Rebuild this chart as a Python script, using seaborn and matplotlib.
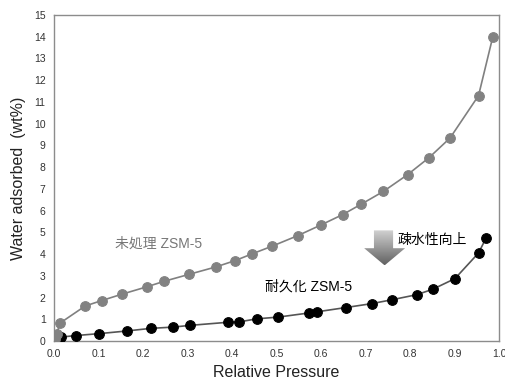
import numpy as np
import pandas as pd
import matplotlib
matplotlib.use("Agg")
import matplotlib.pyplot as plt
from matplotlib.patches import Polygon
import seaborn as sns

# untreated ZSM-5 (gray)
p_untreated = [0.002, 0.006, 0.014, 0.07, 0.107, 0.152, 0.208, 0.248, 0.304, 0.364,
               0.407, 0.444, 0.491, 0.548, 0.60, 0.649, 0.69, 0.74, 0.795, 0.843,
               0.89, 0.954, 0.986]
w_untreated = [0.11, 0.34, 0.83, 1.61, 1.86, 2.15, 2.49, 2.75, 3.07, 3.41,
               3.70, 4.0, 4.37, 4.85, 5.34, 5.82, 6.29, 6.88, 7.66, 8.44,
               9.34, 11.29, 13.99]

# durable ZSM-5 (black)
p_durable = [0.004, 0.015, 0.049, 0.102, 0.163, 0.217, 0.268, 0.306, 0.39, 0.416,
             0.456, 0.504, 0.573, 0.59, 0.656, 0.714, 0.76, 0.815, 0.851, 0.901,
             0.954, 0.971]
w_durable = [0.08, 0.18, 0.25, 0.34, 0.46, 0.58, 0.64, 0.72, 0.86, 0.88,
             1.02, 1.10, 1.29, 1.34, 1.54, 1.72, 1.90, 2.13, 2.38, 2.87,
             4.05, 4.74]

label_untreated = "未処理 ZSM-5"
label_durable = "耐久化 ZSM-5"
label_arrow = "疎水性向上"

df_u = pd.DataFrame({"p": p_untreated, "w": w_untreated})
df_d = pd.DataFrame({"p": p_durable, "w": w_durable})

sns.set_style("white")
plt.rcParams["font.family"] = ["Liberation Sans", "Noto Sans CJK JP", "DejaVu Sans"]

fig = plt.figure(figsize=(5.05, 3.82), dpi=100)
ax = fig.add_axes([54 / 505, 1 - 341 / 382, 445 / 505, 326 / 382])

sns.lineplot(data=df_d, x="p", y="w", ax=ax, color="#555555", lw=1.2,
             marker="o", markersize=7, markerfacecolor="black",
             markeredgecolor="black", zorder=3)
sns.lineplot(data=df_u, x="p", y="w", ax=ax, color="#808080", lw=1.2,
             marker="o", markersize=7, markerfacecolor="#828282",
             markeredgecolor="#828282", zorder=4)

ax.set_xlim(0, 1.0)
ax.set_ylim(0, 15)
ax.set_xticks(np.arange(0, 1.01, 0.1))
ax.set_xticklabels([f"{v:.1f}" for v in np.arange(0, 1.01, 0.1)])
ax.set_yticks(range(0, 16))
ax.tick_params(axis="both", length=0, labelsize=7.5, colors="#333333", pad=6)
for s in ax.spines.values():
    s.set_color("#8c8c8c")
    s.set_linewidth(1.0)

ax.set_xlabel("Relative Pressure", fontsize=11.5, color="#222222", labelpad=4)
ax.set_ylabel("Water adsorbed  (wt%)", fontsize=11.5, color="#222222", labelpad=6)

ax.text(0.234, 4.5, label_untreated, fontsize=10, color="#777777", ha="center", va="center")
ax.text(0.571, 2.52, label_durable, fontsize=10, color="black", ha="center", va="center")
ax.text(0.771, 4.63, label_arrow, fontsize=10, color="black", ha="left", va="center")

# gradient block arrow
arrow = Polygon([(0.719, 5.09), (0.762, 5.09), (0.762, 4.27), (0.789, 4.27),
                 (0.743, 3.48), (0.697, 4.27), (0.719, 4.27)],
                closed=True, facecolor="none", edgecolor="none")
ax.add_patch(arrow)
grad = np.linspace(0.82, 0.38, 100).reshape(-1, 1)
im = ax.imshow(grad, cmap="gray", vmin=0, vmax=1, aspect="auto",
               extent=(0.697, 0.789, 3.48, 5.09), origin="upper", zorder=2)
im.set_clip_path(arrow)

ax.set_xlim(0, 1.0)
ax.set_ylim(0, 15)

fig.savefig("out.png", dpi=100)
